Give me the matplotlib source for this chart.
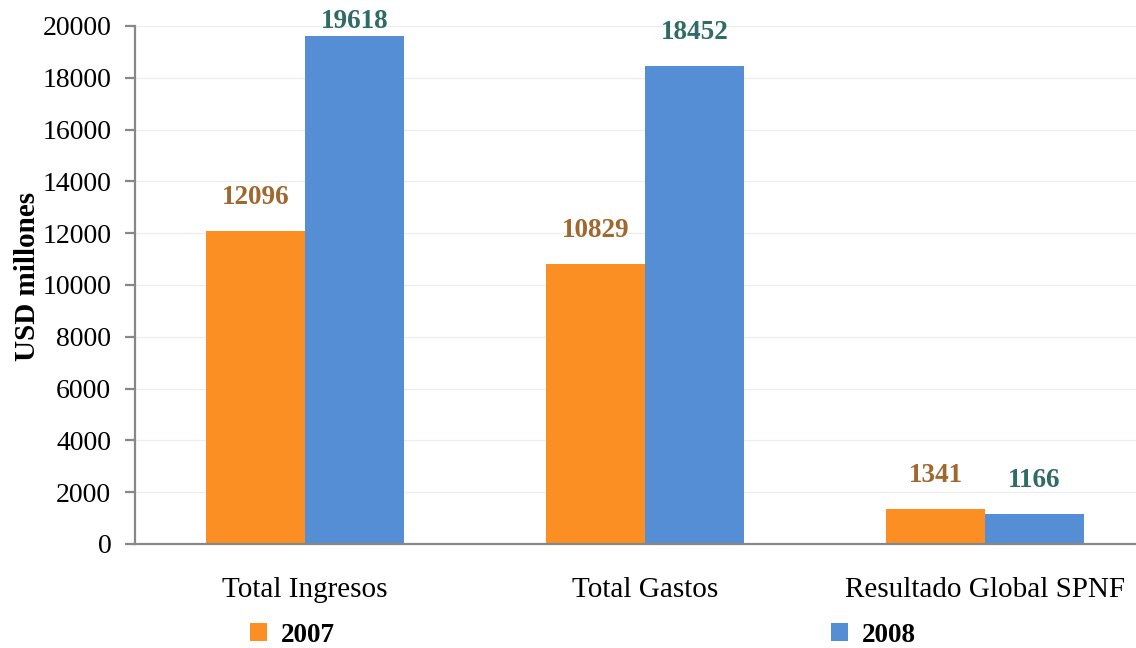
import matplotlib
matplotlib.use("Agg")
import matplotlib.pyplot as plt
import numpy as np

categorias = ["Total Ingresos", "Total Gastos", "Resultado Global SPNF"]
anios = ["2007", "2008"]
valores_2007 = [12096, 10829, 1341]
valores_2008 = [19618, 18452, 1166]

plt.rcParams['font.family'] = ['Liberation Serif', 'DejaVu Serif']

color_2007 = '#FC8F24'
color_2008 = '#558ED5'
texto_2007 = '#A0672F'
texto_2008 = '#2F6B67'
gris = '#878787'

fig = plt.figure(figsize=(11.36, 6.48), dpi=100)
ax = fig.add_axes([0.1188, 0.1605, 0.8812, 0.7994])

x = np.arange(len(categorias))
ancho = 0.29
b1 = ax.bar(x - ancho / 2, valores_2007, ancho, color=color_2007, label=anios[0], zorder=2)
b2 = ax.bar(x + ancho / 2, valores_2008, ancho, color=color_2008, label=anios[1], zorder=2)

# etiquetas de valor sobre cada barra
for barras, color in ((b1, texto_2007), (b2, texto_2008)):
    for rect in barras:
        v = rect.get_height()
        desfase = 15
        if v > 19000:
            desfase = 1
        ax.annotate(f"{v:.0f}", (rect.get_x() + rect.get_width() / 2, v),
                    xytext=(0, desfase), textcoords='offset points',
                    ha='center', va='bottom', fontsize=19.5, fontweight='bold',
                    color=color, annotation_clip=False)

ax.set_xlim(-0.5, 2.444)
ax.set_ylim(0, 20000)
ax.set_yticks(range(0, 20001, 2000))
ax.set_xticks(x)
ax.set_xticklabels(categorias)
ax.yaxis.grid(True, color='#EDEDED', linewidth=0.9, zorder=0)
ax.set_axisbelow(True)

for lado in ('top', 'right'):
    ax.spines[lado].set_visible(False)
for lado in ('left', 'bottom'):
    ax.spines[lado].set_color(gris)
    ax.spines[lado].set_linewidth(1.6)

ax.tick_params(axis='y', length=7, width=1.6, color=gris, labelsize=20, pad=10)
ax.tick_params(axis='x', length=0, labelsize=21, pad=24)
ax.set_ylabel("USD millones", fontsize=21, fontweight='bold')
ax.yaxis.set_label_coords(-0.094, 0.517)

fig.legend(loc='center', bbox_to_anchor=(0.513, 0.02), ncol=2, frameon=False,
           prop={'size': 19.5, 'weight': 'bold'}, handlelength=0.65, handleheight=0.65,
           handletextpad=0.5, columnspacing=18.3)

fig.savefig("out.png", dpi=100)
